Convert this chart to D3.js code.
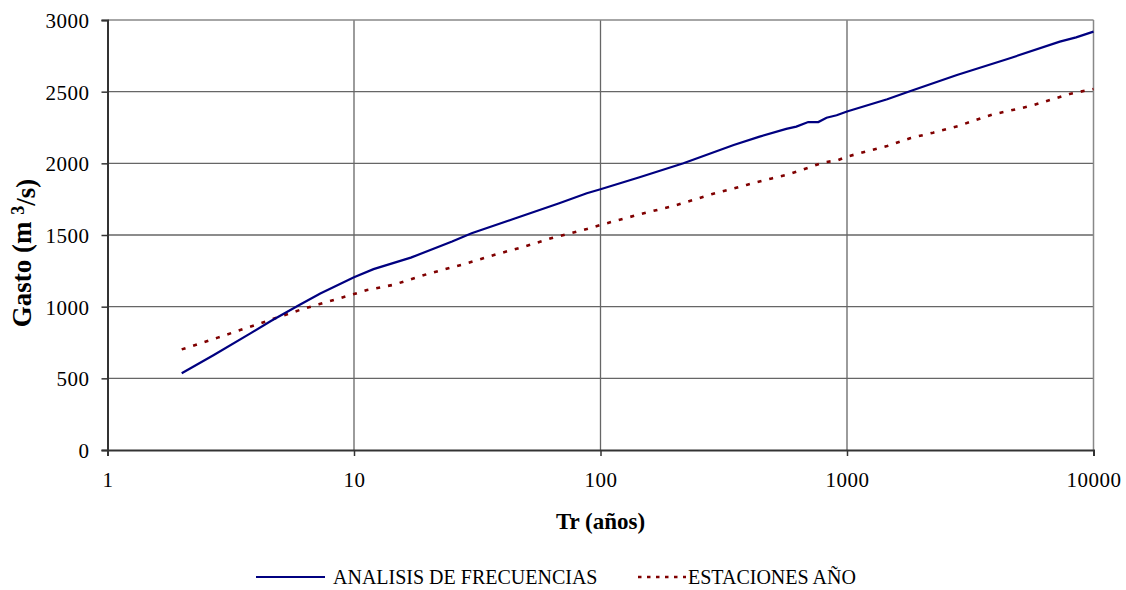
<!DOCTYPE html>
<html>
<head>
<meta charset="utf-8">
<script src="https://cdn.jsdelivr.net/npm/d3@7"></script>
<style>
  body { margin: 0; background: #fff; }
  text { font-family: "Liberation Serif", "Times New Roman", serif; }
</style>
</head>
<body>
<script>
// ANALISIS DE FRECUENCIAS
const trFrec = [2, 2.7, 3.8, 4.6, 6, 7.3, 10, 12, 17, 25, 30, 44, 68, 88, 100, 144, 217, 347, 442, 567, 623, 696, 765, 826, 908, 1000, 1456, 1775, 2793, 4449, 7300, 8500, 10000];
const gastoFrec = [535, 663, 814, 900, 1012, 1092, 1205, 1262, 1342, 1455, 1512, 1610, 1721, 1791, 1819, 1903, 2000, 2128, 2186, 2240, 2256, 2288, 2288, 2318, 2335, 2362, 2447, 2500, 2616, 2726, 2849, 2879, 2919];

// ESTACIONES AÑO
const trEst = [2, 2.8, 3.9, 5, 6.3, 7.2, 10, 11.3, 14.5, 19.7, 28.6, 39, 50, 63, 88, 100, 144, 204, 282, 391, 495, 578, 705, 803, 908, 1000, 1456, 1800, 2236, 2820, 3488, 3919, 5050, 5728, 8000, 10000];
const gastoEst = [702, 784, 867, 930, 988, 1016, 1088, 1116, 1153, 1226, 1302, 1372, 1423, 1477, 1542, 1570, 1644, 1709, 1784, 1849, 1895, 1923, 1972, 2007, 2019, 2047, 2121, 2175, 2214, 2260, 2314, 2342, 2384, 2407, 2484, 2519];

const xTicks = [1, 10, 100, 1000, 10000];
const yTicks = [0, 500, 1000, 1500, 2000, 2500, 3000];

const w = 1126, h = 590;
const plotL = 107.5, plotR = 1093.5, plotT = 20, plotB = 450;

const svg = d3.select("body").append("svg").attr("width", w).attr("height", h);

const x = d3.scaleLog().domain([1, 10000]).range([plotL, plotR]);
const y = d3.scaleLinear().domain([0, 3000]).range([plotB, plotT]);

// grid
svg.append("g").selectAll("line").data(yTicks.filter(d => d > 0 && d < 3000)).enter().append("line")
  .attr("x1", plotL).attr("x2", plotR)
  .attr("y1", d => y(d)).attr("y2", d => y(d))
  .attr("stroke", "#666").attr("stroke-width", 1.3);
svg.append("g").selectAll("line").data(xTicks.filter(d => d > 1 && d < 10000)).enter().append("line")
  .attr("x1", d => x(d)).attr("x2", d => x(d))
  .attr("y1", plotT).attr("y2", plotB)
  .attr("stroke", "#666").attr("stroke-width", 1.3);

// frame: top and right lighter
svg.append("line").attr("x1", plotL).attr("x2", plotR).attr("y1", plotT).attr("y2", plotT)
  .attr("stroke", "#888").attr("stroke-width", 1.5);
svg.append("line").attr("x1", plotR).attr("x2", plotR).attr("y1", plotT).attr("y2", plotB)
  .attr("stroke", "#888").attr("stroke-width", 1.5);

// axes
const yAxis = d3.axisLeft(y).tickValues(yTicks).tickSize(6).tickPadding(12).tickFormat(d3.format("d"));
const xAxis = d3.axisBottom(x).tickValues(xTicks).tickSize(6).tickPadding(16).tickFormat(d3.format("d"));

const gy = svg.append("g").attr("transform", `translate(${plotL},0)`).call(yAxis);
const gx = svg.append("g").attr("transform", `translate(0,${plotB})`).call(xAxis);
[gx, gy].forEach(g => {
  g.select(".domain").attr("stroke", "#333").attr("stroke-width", 2);
  g.selectAll(".tick line").attr("stroke", "#333").attr("stroke-width", 1.5);
  g.selectAll(".tick text").attr("fill", "#000").style("font-size", "21px")
    .style("letter-spacing", "0.5px")
    .style("font-family", '"Liberation Serif", serif');
});
gy.selectAll(".tick text").attr("dy", "0.35em");

// lines
const line = d3.line().x(d => x(d[0])).y(d => y(d[1]));

svg.append("path")
  .datum(d3.zip(trEst, gastoEst))
  .attr("d", line)
  .attr("fill", "none")
  .attr("stroke", "#800000")
  .attr("stroke-width", 2.6)
  .attr("stroke-dasharray", "4,8");

svg.append("path")
  .datum(d3.zip(trFrec, gastoFrec))
  .attr("d", line)
  .attr("fill", "none")
  .attr("stroke", "#000080")
  .attr("stroke-width", 2.2);

// axis titles
svg.append("text")
  .attr("x", (plotL + plotR) / 2).attr("y", 529)
  .attr("text-anchor", "middle")
  .style("font-size", "23px").style("font-weight", "bold")
  .text("Tr (años)");

const yt = svg.append("text")
  .attr("transform", "translate(31,253) rotate(-90)")
  .attr("text-anchor", "middle")
  .style("font-size", "27px").style("font-weight", "bold");
yt.append("tspan").text("Gasto (m ");
yt.append("tspan").attr("dy", "-0.4em").style("font-size", "18px").text("3");
yt.append("tspan").attr("dy", "0.4em").text("/s)");

// legend
const leg = svg.append("g");
leg.append("line").attr("x1", 256).attr("x2", 325).attr("y1", 577).attr("y2", 577)
  .attr("stroke", "#000080").attr("stroke-width", 2.2);
leg.append("text").attr("x", 333).attr("y", 584).style("font-size", "20px").text("ANALISIS DE FRECUENCIAS");
leg.append("line").attr("x1", 638).attr("x2", 686).attr("y1", 577).attr("y2", 577)
  .attr("stroke", "#800000").attr("stroke-width", 2.5).attr("stroke-dasharray", "3.5,5.5");
leg.append("text").attr("x", 688).attr("y", 584).style("font-size", "20px").text("ESTACIONES AÑO");
</script>
</body>
</html>
